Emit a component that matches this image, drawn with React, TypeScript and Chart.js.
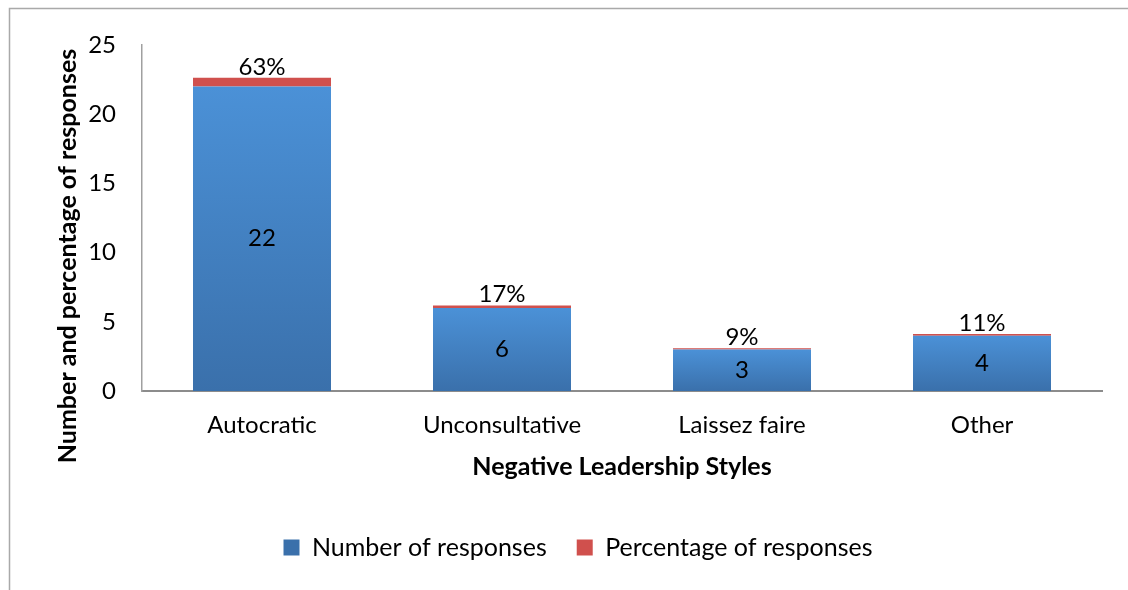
import React, { useEffect, useRef } from "react";
import { Chart, registerables } from "chart.js";

Chart.register(...registerables);

const categories = ["Autocratic", "Unconsultative", "Laissez faire", "Other"];
const numberOfResponses = [22, 6, 3, 4];
const percentageOfResponses = [0.63, 0.17, 0.09, 0.11];
const percentLabels = ["63%", "17%", "9%", "11%"];
const yMin = 0;
const yMax = 25;
const yStep = 5;
const yTitle = "Number and percentage of responses";
const xTitle = "Negative Leadership Styles";
const seriesNames = ["Number of responses", "Percentage of responses"];

const FONT = "Lato, 'Open Sans', sans-serif";
const BLUE = "#4A8AD0";
const RED = "#D0504D";

export default function App() {
  const ref = useRef<HTMLCanvasElement | null>(null);

  useEffect(() => {
    if (!ref.current) return;

    const blueFill = (ctx: any) => {
      if (ctx.type !== "data") return BLUE;
      const chart = ctx.chart;
      const y = chart.scales?.y;
      if (!y || !chart.chartArea) return BLUE;
      const top = y.getPixelForValue(ctx.raw);
      const bottom = y.getPixelForValue(0);
      if (!isFinite(top) || !isFinite(bottom) || top === bottom) return BLUE;
      const g = chart.ctx.createLinearGradient(0, top, 0, bottom);
      g.addColorStop(0, "#4B91D7");
      g.addColorStop(1, "#3A70AB");
      return g;
    };

    const decor = {
      id: "decor",
      beforeDraw(chart: any) {
        const c = chart.ctx;
        c.save();
        c.strokeStyle = "#a9a9a9";
        c.lineWidth = 1.5;
        c.beginPath();
        c.moveTo(9.5, chart.height);
        c.lineTo(9.5, 8.5);
        c.lineTo(chart.width, 8.5);
        c.stroke();
        c.restore();
      },
      afterDraw(chart: any) {
        const c = chart.ctx;
        const m0 = chart.getDatasetMeta(0);
        const m1 = chart.getDatasetMeta(1);
        c.save();
        c.fillStyle = "#000";
        c.textAlign = "center";
        c.textBaseline = "middle";
        c.font = `24px ${FONT}`;
        m0.data.forEach((bar: any, i: number) => {
          c.fillText(String(numberOfResponses[i]), bar.x, (bar.y + bar.base) / 2);
        });
        m1.data.forEach((bar: any, i: number) => {
          c.fillText(percentLabels[i], bar.x, bar.y - 11);
        });
        // axis titles
        c.font = `bold 25px ${FONT}`;
        c.save();
        c.translate(68, 256);
        c.rotate(-Math.PI / 2);
        c.fillText(yTitle, 0, 0);
        c.restore();
        c.font = `bold 25px ${FONT}`;
        c.fillText(xTitle, 622, 467);
        c.restore();
      },
    };

    const chart = new Chart(ref.current, {
      type: "bar",
      data: {
        labels: categories,
        datasets: [
          {
            label: seriesNames[0],
            data: numberOfResponses,
            backgroundColor: blueFill,
            borderWidth: 0,
            categoryPercentage: 1,
            barPercentage: 0.575,
          },
          {
            label: seriesNames[1],
            data: percentageOfResponses,
            backgroundColor: RED,
            borderWidth: 0,
            categoryPercentage: 1,
            barPercentage: 0.575,
          },
        ],
      },
      options: {
        animation: false,
        responsive: true,
        maintainAspectRatio: false,
        layout: { padding: { top: 45, left: 54, right: 26, bottom: 20 } },
        plugins: {
          tooltip: { enabled: false },
          title: { display: false },
          legend: {
            position: "bottom",
            labels: {
              boxWidth: 16,
              boxHeight: 16,
              padding: 30,
              color: "#000",
              font: { family: FONT, size: 25 },
            },
          },
        },
        scales: {
          x: {
            stacked: true,
            grid: { display: false, drawTicks: false },
            border: { display: true, color: "#8c8c8c", width: 2 },
            ticks: {
              color: "#000",
              padding: 20,
              font: { family: FONT, size: 24 },
            },
            afterFit: (s: any) => {
              s.height = 114;
            },
          },
          y: {
            stacked: true,
            min: yMin,
            max: yMax,
            grid: { display: false, drawTicks: false },
            border: { display: true, color: "#a0a0a0", width: 1.5 },
            ticks: {
              stepSize: yStep,
              color: "#000",
              padding: 26,
              font: { family: FONT, size: 24 },
            },
            afterFit: (s: any) => {
              s.width = 88;
            },
          },
        },
      },
      plugins: [decor],
    });

    return () => chart.destroy();
  }, []);

  return (
    <div style={{ position: "fixed", left: 0, top: 0, width: 1128, height: 590, background: "#fff" }}>
      <canvas ref={ref} />
    </div>
  );
}
